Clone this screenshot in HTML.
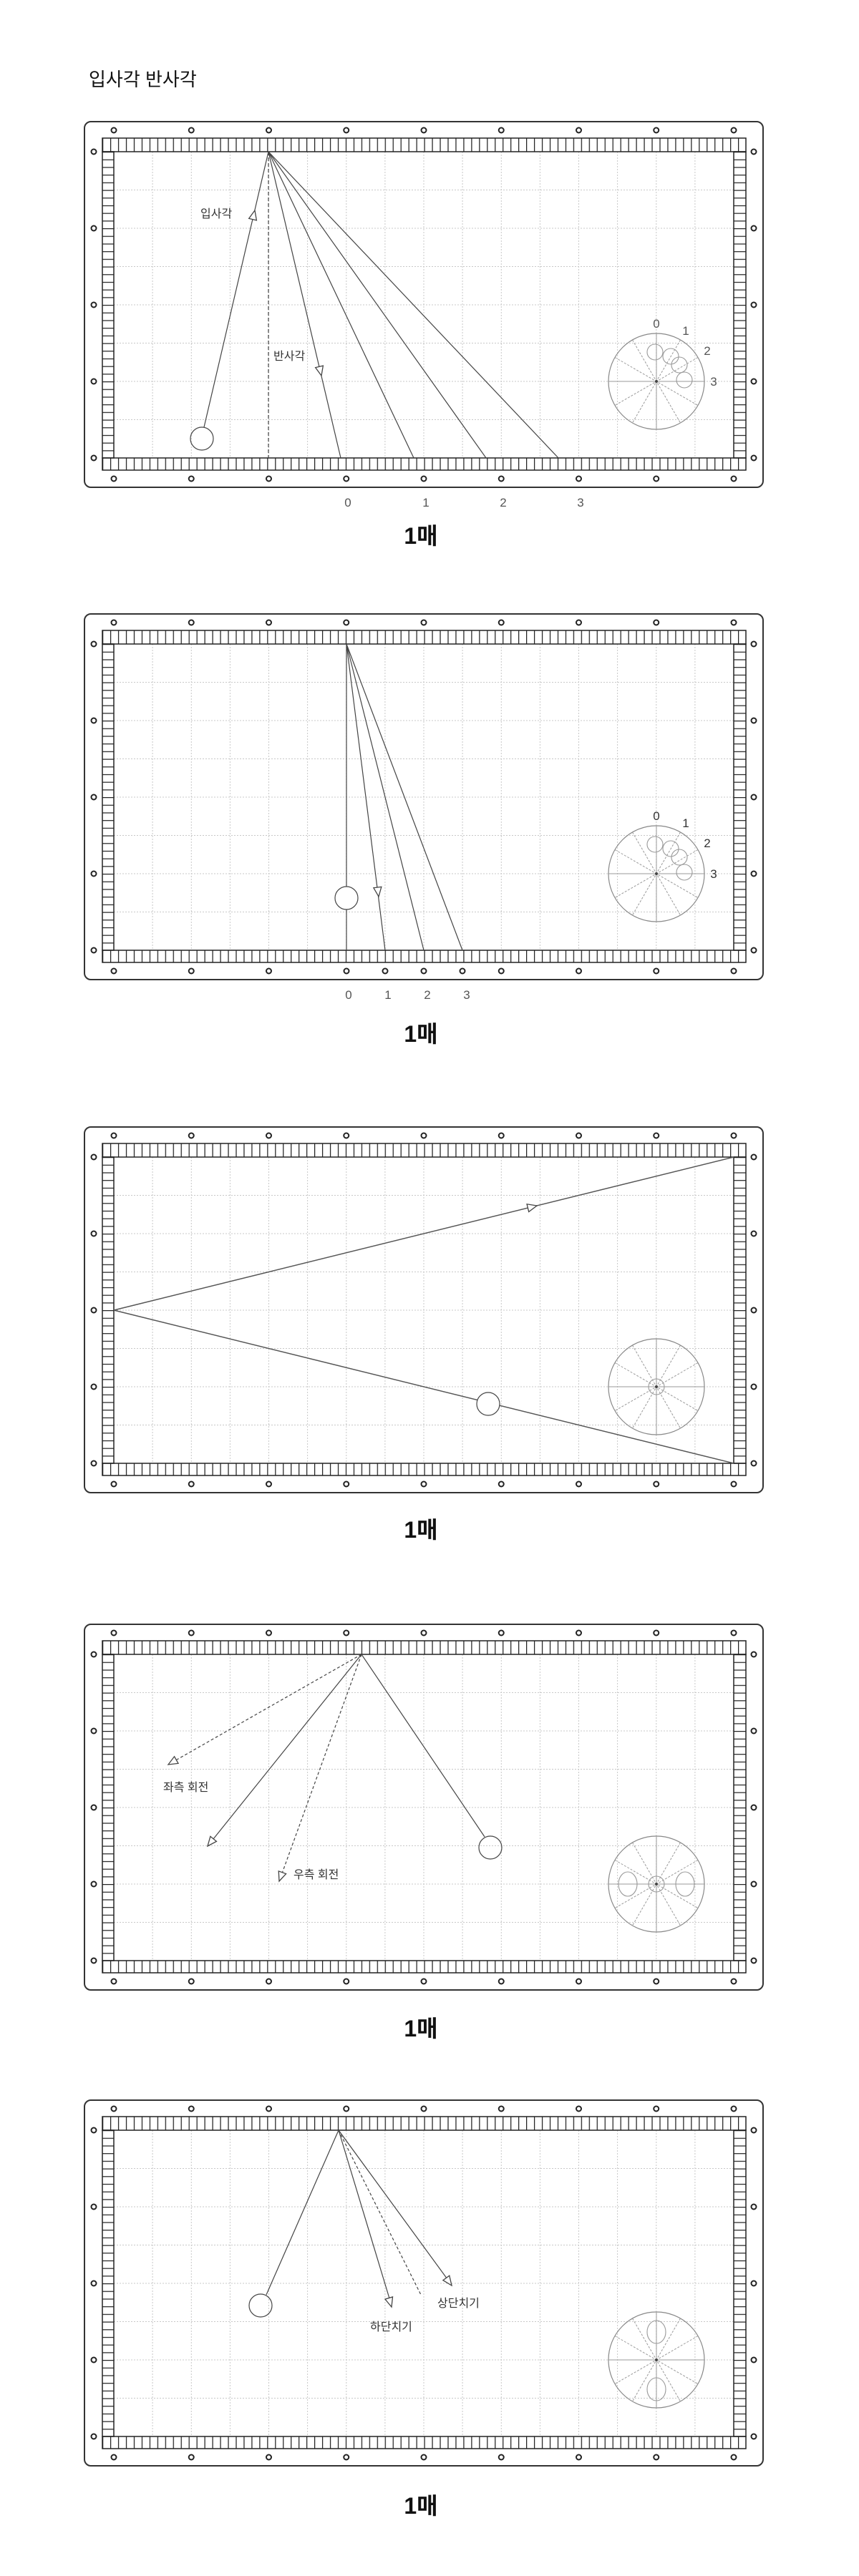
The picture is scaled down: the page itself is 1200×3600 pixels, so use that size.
<!DOCTYPE html>
<html><head><meta charset="utf-8">
<style>
html,body{margin:0;padding:0;background:#fff;}
svg{display:block;}
.lbl{font-family:"Liberation Sans","Noto Sans CJK KR",sans-serif;fill:#333;font-size:16px;}
.num{font-family:"Liberation Sans","Noto Sans CJK KR",sans-serif;fill:#555;font-size:17px;text-anchor:middle;}
.big{font-family:"Liberation Sans","Noto Sans CJK KR",sans-serif;fill:#111;font-size:32px;font-weight:bold;text-anchor:middle;}
</style></head>
<body>
<svg width="1200" height="3600" viewBox="0 0 1200 3600" xmlns="http://www.w3.org/2000/svg">
<defs>
<pattern id="pv" patternUnits="userSpaceOnUse" width="10.963" height="40" x="143" y="0">
  <line x1="0.6" y1="0" x2="0.6" y2="40" stroke="#222" stroke-width="1.3"/>
</pattern>
<pattern id="ph" patternUnits="userSpaceOnUse" width="40" height="10.7" x="0" y="42">
  <line x1="0" y1="0.6" x2="40" y2="0.6" stroke="#222" stroke-width="1.3"/>
</pattern>
<g id="table">
  <rect x="118" y="0" width="948" height="511" rx="9" fill="#fff" stroke="#333" stroke-width="2"/>
  <path d="M213.1 42V470M267.3 42V470M321.4 42V470M375.5 42V470M429.6 42V470M483.8 42V470M537.9 42V470M592 42V470M646.1 42V470M700.3 42V470M754.4 42V470M808.5 42V470M862.6 42V470M916.8 42V470M970.9 42V470M159 95.5H1025M159 149H1025M159 202.5H1025M159 256H1025M159 309.5H1025M159 363H1025M159 416.5H1025" stroke="#c8c8c8" stroke-width="1" stroke-dasharray="2 2" fill="none"/>
  <rect x="143" y="23" width="899" height="19" fill="url(#pv)" stroke="#222" stroke-width="1.5"/>
  <rect x="143" y="470" width="899" height="17" fill="url(#pv)" stroke="#222" stroke-width="1.5"/>
  <rect x="143" y="42" width="16" height="428" fill="url(#ph)" stroke="#222" stroke-width="1.5"/>
  <rect x="1025" y="42" width="17" height="428" fill="url(#ph)" stroke="#222" stroke-width="1.5"/>
  <g fill="none" stroke="#222" stroke-width="2">
    <circle cx="159" cy="12" r="3.5"/><circle cx="267.25" cy="12" r="3.5"/><circle cx="375.5" cy="12" r="3.5"/><circle cx="483.75" cy="12" r="3.5"/><circle cx="592" cy="12" r="3.5"/><circle cx="700.25" cy="12" r="3.5"/><circle cx="808.5" cy="12" r="3.5"/><circle cx="916.75" cy="12" r="3.5"/><circle cx="1025" cy="12" r="3.5"/>
    <circle cx="131" cy="42" r="3.5"/><circle cx="131" cy="149" r="3.5"/><circle cx="131" cy="256" r="3.5"/><circle cx="131" cy="363" r="3.5"/><circle cx="131" cy="470" r="3.5"/>
    <circle cx="1053" cy="42" r="3.5"/><circle cx="1053" cy="149" r="3.5"/><circle cx="1053" cy="256" r="3.5"/><circle cx="1053" cy="363" r="3.5"/><circle cx="1053" cy="470" r="3.5"/>
  </g>
</g>
<g id="bdots" fill="none" stroke="#222" stroke-width="2">
  <circle cx="159" cy="499" r="3.5"/><circle cx="267.25" cy="499" r="3.5"/><circle cx="375.5" cy="499" r="3.5"/><circle cx="483.75" cy="499" r="3.5"/><circle cx="592" cy="499" r="3.5"/><circle cx="700.25" cy="499" r="3.5"/><circle cx="808.5" cy="499" r="3.5"/><circle cx="916.75" cy="499" r="3.5"/><circle cx="1025" cy="499" r="3.5"/>
</g>
<g id="spin">
  <circle cx="0" cy="0" r="67" fill="none" stroke="#888" stroke-width="1.2"/>
  <path d="M0 -67V67M-67 0H67" stroke="#999" stroke-width="1"/>
  <path d="M-58 -33.5L58 33.5M-33.5 -58L33.5 58M58 -33.5L-58 33.5M33.5 -58L-33.5 58" stroke="#999" stroke-width="1" stroke-dasharray="3 2"/>
  <circle cx="0" cy="0" r="2" fill="#444"/>
</g>
<polygon id="ah" points="0,0 -13,-5.5 -13,5.5" fill="#fff" stroke="#444" stroke-width="1.3"/>
</defs>

<text x="124" y="120" style="font-family:'Liberation Sans','Noto Sans CJK KR',sans-serif;font-size:26px;fill:#111;">입사각 반사각</text>

<!-- TABLE 1 -->
<use href="#table" transform="translate(0,170)"/>
<use href="#bdots" transform="translate(0,170)"/>
<g stroke="#444" stroke-width="1.2" fill="none">
  <line x1="375" y1="212" x2="375" y2="640" stroke-dasharray="5 3"/>
  <line x1="285" y1="597" x2="375" y2="212"/>
  <line x1="375" y1="212" x2="476" y2="640"/>
  <line x1="375" y1="212" x2="578" y2="640"/>
  <line x1="375" y1="212" x2="679" y2="640"/>
  <line x1="375" y1="212" x2="780" y2="640"/>
  <circle cx="282" cy="613" r="16"/>
</g>
<use href="#ah" transform="translate(356,294) rotate(-76.8)"/>
<use href="#ah" transform="translate(449,525) rotate(76.7)"/>
<text class="lbl" x="280" y="304">입사각</text>
<text class="lbl" x="382" y="503">반사각</text>
<use href="#spin" transform="translate(917,533)"/>
<g fill="none" stroke="#999" stroke-width="1.1">
  <circle cx="915" cy="492" r="11"/><circle cx="937" cy="498" r="11"/><circle cx="949" cy="510" r="11"/><circle cx="956" cy="531" r="11"/>
</g>
<g class="num" style="fill:#333"><text x="917" y="458" class="num">0</text><text x="958" y="468" class="num">1</text><text x="988" y="496" class="num">2</text><text x="997" y="539" class="num">3</text></g>
<text class="num" x="486" y="708">0</text><text class="num" x="595" y="708">1</text><text class="num" x="703" y="708">2</text><text class="num" x="811" y="708">3</text>
<text class="big" x="588" y="760">1매</text>

<!-- TABLE 2 -->
<use href="#table" transform="translate(0,858)"/>
<g fill="none" stroke="#222" stroke-width="2">
  <circle cx="159" cy="1357" r="3.5"/><circle cx="267.25" cy="1357" r="3.5"/><circle cx="375.5" cy="1357" r="3.5"/><circle cx="484" cy="1357" r="3.5"/><circle cx="538" cy="1357" r="3.5"/><circle cx="592" cy="1357" r="3.5"/><circle cx="646" cy="1357" r="3.5"/><circle cx="700.25" cy="1357" r="3.5"/><circle cx="808.5" cy="1357" r="3.5"/><circle cx="916.75" cy="1357" r="3.5"/><circle cx="1025" cy="1357" r="3.5"/>
</g>
<g stroke="#444" stroke-width="1.2" fill="none">
  <line x1="484" y1="900" x2="484" y2="1328"/>
  <line x1="484" y1="900" x2="538" y2="1328"/>
  <line x1="484" y1="900" x2="592" y2="1328"/>
  <line x1="484" y1="900" x2="646" y2="1328"/>
  <circle cx="484" cy="1255" r="16" fill="#fff"/>
</g>
<use href="#ah" transform="translate(529,1253) rotate(82.8)"/>
<use href="#spin" transform="translate(917,1221)"/>
<g fill="none" stroke="#999" stroke-width="1.1">
  <circle cx="915" cy="1180" r="11"/><circle cx="937" cy="1186" r="11"/><circle cx="949" cy="1198" r="11"/><circle cx="956" cy="1219" r="11"/>
</g>
<text x="917" y="1146" class="num" style="fill:#333">0</text><text x="958" y="1156" class="num" style="fill:#333">1</text><text x="988" y="1184" class="num" style="fill:#333">2</text><text x="997" y="1227" class="num" style="fill:#333">3</text>
<text class="num" x="487" y="1396">0</text><text class="num" x="542" y="1396">1</text><text class="num" x="597" y="1396">2</text><text class="num" x="652" y="1396">3</text>
<text class="big" x="588" y="1456">1매</text>

<!-- TABLE 3 -->
<use href="#table" transform="translate(0,1575)"/>
<use href="#bdots" transform="translate(0,1575)"/>
<g stroke="#555" stroke-width="1.5" fill="none">
  <line x1="159" y1="1831" x2="1025" y2="1617"/>
  <line x1="159" y1="1831" x2="1025" y2="2045"/>
  <circle cx="682" cy="1962" r="16" fill="#fff" stroke="#444" stroke-width="1.2"/>
</g>
<use href="#ah" transform="translate(750,1685) rotate(-13.9)"/>
<use href="#spin" transform="translate(917,1938)"/>
<circle cx="917" cy="1938" r="11" fill="none" stroke="#999" stroke-width="1.1"/>
<text class="big" x="588" y="2149">1매</text>

<!-- TABLE 4 -->
<use href="#table" transform="translate(0,2270)"/>
<use href="#bdots" transform="translate(0,2270)"/>
<g stroke="#444" stroke-width="1.2" fill="none">
  <line x1="505" y1="2312" x2="677" y2="2567"/>
  <line x1="505" y1="2312" x2="290" y2="2580"/>
  <line x1="505" y1="2312" x2="235" y2="2466" stroke-dasharray="4 3"/>
  <line x1="505" y1="2312" x2="390" y2="2629" stroke-dasharray="4 3"/>
  <circle cx="685" cy="2582" r="16"/>
</g>
<use href="#ah" transform="translate(290,2580) rotate(128.9)"/>
<use href="#ah" transform="translate(235,2466) rotate(150.3)"/>
<use href="#ah" transform="translate(390,2629) rotate(109.9)"/>
<text class="lbl" x="228" y="2503">좌측 회전</text>
<text class="lbl" x="410" y="2625">우측 회전</text>
<use href="#spin" transform="translate(917,2633)"/>
<g fill="none" stroke="#999" stroke-width="1.1">
  <circle cx="917" cy="2633" r="11"/><ellipse cx="877" cy="2633" rx="13" ry="17"/><ellipse cx="957" cy="2633" rx="13" ry="17"/>
</g>
<text class="big" x="588" y="2846">1매</text>

<!-- TABLE 5 -->
<use href="#table" transform="translate(0,2935)"/>
<use href="#bdots" transform="translate(0,2935)"/>
<g stroke="#444" stroke-width="1.2" fill="none">
  <line x1="473" y1="2977" x2="372" y2="3207"/>
  <line x1="473" y1="2977" x2="547" y2="3222"/>
  <line x1="473" y1="2977" x2="630" y2="3192"/>
  <line x1="473" y1="2977" x2="588" y2="3207" stroke-dasharray="4 3"/>
  <circle cx="364" cy="3222" r="16"/>
</g>
<use href="#ah" transform="translate(547,3224) rotate(73.2)"/>
<use href="#ah" transform="translate(631,3194) rotate(53.9)"/>
<text class="lbl" x="611" y="3224">상단치기</text>
<text class="lbl" x="517" y="3257">하단치기</text>
<use href="#spin" transform="translate(917,3298)"/>
<g fill="none" stroke="#999" stroke-width="1.1">
  <ellipse cx="917" cy="3259" rx="13" ry="16"/><ellipse cx="917" cy="3339" rx="13" ry="16"/>
</g>
<text class="big" x="588" y="3513">1매</text>
</svg>
</body></html>
